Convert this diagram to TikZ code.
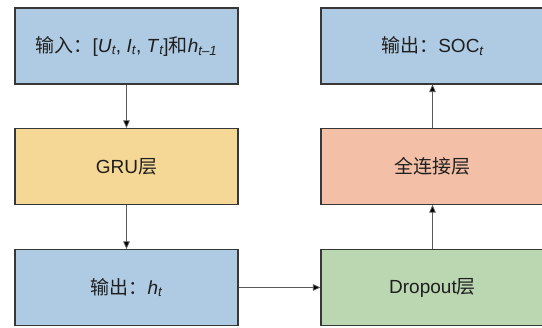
\documentclass[tikz,border=0pt]{standalone}
\usepackage{fontspec}
\setmainfont{Liberation Sans}
\newfontfamily\cjk{Noto Sans CJK SC}
\usetikzlibrary{arrows.meta}
\definecolor{boxblue}{RGB}{174,203,227}
\definecolor{boxyellow}{RGB}{246,216,150}
\definecolor{boxsalmon}{RGB}{243,191,166}
\definecolor{boxgreen}{RGB}{186,215,178}
\definecolor{edgegray}{RGB}{55,55,55}
\definecolor{linegray}{RGB}{90,90,90}
\newcommand{\zh}[1]{{\cjk #1}}
\newcommand{\sub}[1]{\textsubscript{\itshape #1}}
\tikzset{
  layerbox/.style={draw=edgegray, line width=1.1pt, rectangle,
    minimum width=223pt, minimum height=76pt, inner sep=0pt,
    font=\fontsize{19}{21}\selectfont, text=black!88},
  flow/.style={draw=linegray, line width=0.7pt,
    -{Triangle[length=7.5pt,width=6.5pt,fill=black]}}
}
\begin{document}
\begin{tikzpicture}[x=1pt,y=-1pt]
\useasboundingbox (0,0) rectangle (542,328);
\fill[white] (0,0) rectangle (542,328);
% left column
\node[layerbox, fill=boxblue]   (in)   at (126.5,46)  {\zh{输入：}[\textit{U}\sub{t}, \textit{I}\sub{t}, \textit{T}\sub{t}]\zh{和}\textit{h}\sub{t–1}};
\node[layerbox, fill=boxyellow] (gru)  at (126.5,166.5) {GRU\zh{层}};
\node[layerbox, fill=boxblue]   (ht)   at (126.5,287.5) {\zh{输出：}\textit{h}\sub{t}};
% right column
\node[layerbox, fill=boxgreen]  (drop) at (432.5,287.5) {Dropout\zh{层}};
\node[layerbox, fill=boxsalmon] (fc)   at (432.5,166.5) {\zh{全连接层}};
\node[layerbox, fill=boxblue]   (out)  at (432.5,46)  {\zh{输出：}SOC\sub{t}};
% connectors
\draw[flow] (in) -- (gru);
\draw[flow] (gru) -- (ht);
\draw[flow] (ht) -- (drop);
\draw[flow] (drop) -- (fc);
\draw[flow] (fc) -- (out);
\end{tikzpicture}
\end{document}
